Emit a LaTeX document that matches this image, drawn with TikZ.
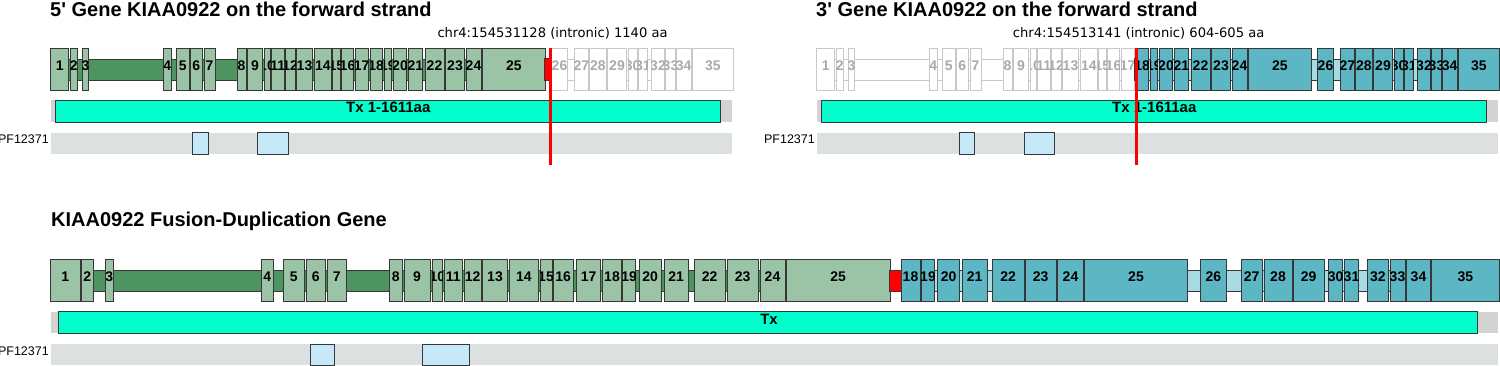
\documentclass[tikz,border=0pt]{standalone}
\usepackage{fontspec}
\setmainfont{Liberation Sans}
\newfontfamily\dejavu{DejaVu Sans}
\definecolor{edge}{RGB}{55,55,55}
\definecolor{exgreen}{RGB}{155,196,166}
\definecolor{ingreen}{RGB}{78,148,97}
\definecolor{exteal}{RGB}{92,182,196}
\definecolor{inteal}{RGB}{168,220,226}
\definecolor{nogray}{RGB}{200,200,200}
\definecolor{grtext}{RGB}{170,170,170}
\definecolor{txcyan}{RGB}{0,255,204}
\definecolor{txgray}{RGB}{211,211,211}
\definecolor{pfgray}{RGB}{220,224,224}
\definecolor{dom}{RGB}{198,233,250}
\tikzset{
  exbase/.style={inner sep=0pt, outer sep=0pt, minimum height=42pt, line width=0.8pt},
  exG/.style={exbase, draw=edge, fill=exgreen},
  exT/.style={exbase, draw=edge, fill=exteal},
  exN/.style={exbase, draw=nogray, fill=white},
  lbK/.style={font=\fontsize{14}{14}\selectfont\bfseries, text=black, inner sep=0pt, anchor=base},
  lbN/.style={font=\fontsize{14}{14}\selectfont\bfseries, text=grtext, inner sep=0pt, anchor=base},
  intG/.style={draw=edge, fill=ingreen, line width=0.8pt},
  intT/.style={draw=edge, fill=inteal, line width=0.8pt},
  intN/.style={draw=nogray, fill=white, line width=0.8pt},
  redbox/.style={draw=edge, fill=red, line width=0.8pt},
  txbg/.style={fill=txgray},
  txbar/.style={draw=edge, fill=txcyan, line width=0.8pt},
  pfbg/.style={fill=pfgray},
  dombox/.style={draw=edge, fill=dom, line width=0.8pt},
  bpline/.style={draw=red, line width=3pt},
  ttl/.style={font=\fontsize{20}{24}\selectfont\bfseries, inner sep=0pt, anchor=base west},
  sub/.style={font=\dejavu\fontsize{13.1}{15}\selectfont, inner sep=0pt, anchor=base west},
  txlbl/.style={font=\fontsize{15}{15}\selectfont\bfseries, inner sep=0pt, anchor=base},
  pflbl/.style={font=\fontsize{12.5}{12.5}\selectfont, inner sep=0pt, anchor=base east},
}
% name, x1, x2, offset, ycenter, box style, label style, label
\newcommand\exn[8]{%
  \node[#6, minimum width={(#3)-(#2)}] (#1) at ({(#2+#3)/2+#4},#5) {};
  \begin{scope}
    \clip (#1.south west) rectangle (#1.north east);
    \node[#7] (#1-l) at ([yshift=-1.5pt]#1.center) {#8};
  \end{scope}}
\def\firstpart{50.7/68.7/1, 70/77.7/2, 82.7/88.3/3, 163.3/171.3/4, 176/189.3/5, 190/202.7/6, 204/215/7, 237/246/8, 247.3/262.7/9, 264/270/10, 271.7/284/11, 285/295.3/12, 296.7/312.3/13, 314/331.7/14, 332.7/340/15, 341.3/353.7/16, 355/368.3/17}
\def\midpart{370/382.3/18, 384/391.7/19, 393.3/406.7/20, 408/422.7/21, 425/444/22, 445.7/464.3/23, 466/481/24, 482.7/545/25}
\def\lastpart{551.7/567.3/26, 574.3/588.3/27, 589/606.7/28, 607.3/626.7/29, 628.3/637/30, 638.3/647.3/31, 651.3/664.7/32, 665.3/675.7/33, 676.3/691/34, 692.3/733.3/35}
\def\botgreen{50.7/80/1, 81.3/93.3/2, 105.3/113.3/3, 261/273.3/4, 283.3/304.3/5, 306/325.7/6, 327.3/346/7, 389/402.7/8, 404/430/9, 432.3/442.3/10, 444/462.7/11, 464.3/481/12, 482.3/507.7/13, 509.3/538.3/14, 540/552/15, 553/573.3/16, 576.7/600.7/17, 602.3/621.7/18, 622.7/635.7/19, 639.3/661/20, 664/688.3/21, 694.3/725/22, 727/758.3/23, 760/785/24, 786.3/890/25}
\def\botteal{901/920/18, 921.7/934.3/19, 937.7/959.7/20, 962.3/987/21, 992.3/1024/22, 1025.3/1056/23, 1057.7/1083.3/24, 1084.3/1187.7/25, 1200.7/1226/26, 1241/1262.3/27, 1264/1292/28, 1293/1324.3/29, 1328.7/1342.7/30, 1344.3/1358.7/31, 1367.7/1388/32, 1390/1405/33, 1406.3/1430.7/34, 1431.3/1499.3/35}
\begin{document}
\begin{tikzpicture}[x=1pt,y=-1pt]
\useasboundingbox (0,0) rectangle (1500,366);
% titles
\node[ttl] (t1) at (50,16.7) {5\textquotesingle{} Gene KIAA0922 on the forward strand};
\node[ttl] (t2) at (816,16.7) {3\textquotesingle{} Gene KIAA0922 on the forward strand};
\node[ttl] (t3) at (51,226.7) {KIAA0922 Fusion-Duplication Gene};
\node[sub] (s1) at (437.3,37.3) {chr4:154531128 (intronic) 1140 aa};
\node[sub] (s2) at (1012.7,37.3) {chr4:154513141 (intronic) 604-605 aa};
% ---------- top left (5' gene)
\draw[intG] (50.7,59) rectangle (545,80);
\draw[intN] (551,59) rectangle (733,80);
\foreach \a/\b/\l in \firstpart {\exn{tl-\l}{\a}{\b}{0}{69}{exG}{lbK}{\l}}
\foreach \a/\b/\l in \midpart {\exn{tl-\l}{\a}{\b}{0}{69}{exG}{lbK}{\l}}
\foreach \a/\b/\l in \lastpart {\exn{tl-\l}{\a}{\b}{0}{69}{exN}{lbN}{\l}}
\draw[redbox] (544,58) rectangle (551,80);
\fill[txbg] (50.7,100) rectangle (732,122);
\draw[txbar] (55,100) rectangle (720,122);
\node[txlbl] (tx1) at (388.3,113) {Tx 1-1611aa};
\fill[pfbg] (50.7,132.7) rectangle (732,154);
\draw[dombox] (192.7,132.7) rectangle (208.3,154);
\draw[dombox] (257.7,132.7) rectangle (288.3,154);
\node[pflbl] (pf1) at (49,144) {PF12371};
\coordinate (bp1a) at (550,48);
\coordinate (bp1b) at (550,165);
\draw[bpline] (bp1a) -- (bp1b);
% ---------- top right (3' gene)
\draw[intN] (816.7,59) rectangle (1134,80);
\draw[intT] (1137,59) rectangle (1499,80);
\foreach \a/\b/\l in \firstpart {\exn{tr-\l}{\a}{\b}{766}{69}{exN}{lbN}{\l}}
\foreach \a/\b/\l in \midpart {\exn{tr-\l}{\a}{\b}{766}{69}{exT}{lbK}{\l}}
\foreach \a/\b/\l in \lastpart {\exn{tr-\l}{\a}{\b}{766}{69}{exT}{lbK}{\l}}
\draw[redbox] (1134,58) rectangle (1137,80);
\fill[txbg] (816.7,100) rectangle (1498,122);
\draw[txbar] (821,100) rectangle (1486.5,122);
\node[txlbl] (tx2) at (1154.3,113) {Tx 1-1611aa};
\fill[pfbg] (816.7,132.7) rectangle (1498,154);
\draw[dombox] (959,132.7) rectangle (974.3,154);
\draw[dombox] (1024,132.7) rectangle (1054.3,154);
\node[pflbl] (pf2) at (815,144) {PF12371};
\coordinate (bp2a) at (1136.7,48);
\coordinate (bp2b) at (1136.7,165);
\draw[bpline] (bp2a) -- (bp2b);
% ---------- bottom (fusion)
\draw[intG] (50.7,270) rectangle (890,291);
\draw[intT] (901,270) rectangle (1499,291);
\foreach \a/\b/\l in \botgreen {\exn{bg-\l}{\a}{\b}{0}{280}{exG}{lbK}{\l}}
\foreach \a/\b/\l in \botteal {\exn{bt-\l}{\a}{\b}{0}{280}{exT}{lbK}{\l}}
\draw[redbox] (889,270) rectangle (901.7,291);
\fill[txbg] (50.7,311.7) rectangle (1498.3,333.3);
\draw[txbar] (58.7,311.7) rectangle (1477.7,333.3);
\node[txlbl] (tx3) at (769,324.5) {Tx};
\fill[pfbg] (50.7,344) rectangle (1498.3,365);
\draw[dombox] (310.7,344) rectangle (334.3,365);
\draw[dombox] (422.3,344) rectangle (469.3,365);
\node[pflbl] (pf3) at (49,355) {PF12371};
\end{tikzpicture}
\end{document}
